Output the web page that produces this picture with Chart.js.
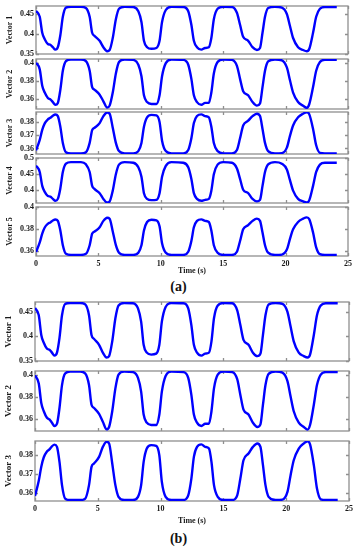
<!DOCTYPE html>
<html>
<head>
<meta charset="utf-8">
<script src="https://cdn.jsdelivr.net/npm/chart.js@4.4.0/dist/chart.umd.min.js"></script>
<style>
  html, body { margin: 0; padding: 0; background: #fff; }
  body { width: 357px; height: 550px; position: relative; overflow: hidden; }
  canvas { position: absolute; left: 0; }
  .tag { position: absolute; left: 0; width: 357px; text-align: center;
         font: bold 14px "Liberation Serif", serif; color: #111; line-height: 14px; }
</style>
</head>
<body>
<div class="tag" style="top:280px">(a)</div>
<div class="tag" style="top:532px">(b)</div>
<script>
// time samples (s), shared by all five signals
const times = [0, 0.3, 0.5, 0.7, 0.95, 1.15, 1.35, 1.55, 1.75, 1.95,
  2.15, 2.4, 2.8, 3.6, 4.0, 4.3, 4.5, 4.7, 5.1, 5.4,
  5.7, 5.9, 6.15, 6.4, 6.65, 7.1, 7.8, 8.2, 8.45, 8.65,
  8.9, 9.25, 9.65, 9.9, 10.1, 10.4, 10.85, 11.8, 12.2, 12.45,
  12.65, 12.9, 13.25, 13.55, 13.85, 14.05, 14.25, 14.55, 15.0, 15.7,
  16.1, 16.35, 16.6, 17.0, 17.35, 17.7, 17.95, 18.15, 18.35, 18.6,
  19.15, 19.7, 20.1, 20.35, 20.6, 21.0, 21.4, 21.7, 21.9, 22.2,
  22.45, 22.75, 23.15, 24.1];

const vector1 = [0.458, 0.443, 0.403, 0.387, 0.375, 0.373, 0.367, 0.361, 0.367, 0.397,
  0.443, 0.466, 0.468, 0.468, 0.465, 0.443, 0.403, 0.395, 0.383, 0.367,
  0.357, 0.360, 0.390, 0.437, 0.463, 0.468, 0.4675, 0.457, 0.430, 0.383,
  0.367, 0.363, 0.365, 0.383, 0.430, 0.460, 0.468, 0.4675, 0.457, 0.423,
  0.383, 0.367, 0.361, 0.365, 0.367, 0.390, 0.437, 0.463, 0.468, 0.4675,
  0.453, 0.423, 0.393, 0.383, 0.367, 0.360, 0.365, 0.403, 0.443, 0.465,
  0.468, 0.466, 0.450, 0.420, 0.390, 0.367, 0.360, 0.357, 0.363, 0.403,
  0.443, 0.463, 0.4675, 0.4675];

const vector2 = [0.4000, 0.3926, 0.3746, 0.3671, 0.3611, 0.3596, 0.3566, 0.3536, 0.3557, 0.3701,
  0.3911, 0.4016, 0.4035, 0.4035, 0.4016, 0.3911, 0.3731, 0.3701, 0.3647, 0.3575,
  0.3506, 0.3527, 0.3671, 0.3881, 0.4007, 0.4035, 0.4030, 0.3977, 0.3851, 0.3641,
  0.3566, 0.3545, 0.3545, 0.3641, 0.3851, 0.3995, 0.4035, 0.4030, 0.3977, 0.3821,
  0.3641, 0.3566, 0.3536, 0.3557, 0.3557, 0.3671, 0.3881, 0.4007, 0.4035, 0.4030,
  0.3965, 0.3821, 0.3686, 0.3641, 0.3566, 0.3527, 0.3551, 0.3731, 0.3911, 0.4013,
  0.4035, 0.4025, 0.3947, 0.3806, 0.3671, 0.3566, 0.3527, 0.3503, 0.3545, 0.3731,
  0.3911, 0.4007, 0.4030, 0.4030];

const vector3 = [0.3585, 0.3665, 0.3740, 0.3790, 0.3820, 0.3832, 0.3848, 0.3857, 0.3845, 0.3765,
  0.3642, 0.3571, 0.3563, 0.3563, 0.3571, 0.3642, 0.3739, 0.3757, 0.3792, 0.3845,
  0.3872, 0.3863, 0.3757, 0.3642, 0.3580, 0.3563, 0.3563, 0.3580, 0.3642, 0.3765,
  0.3836, 0.3854, 0.3850, 0.3800, 0.3659, 0.3580, 0.3563, 0.3563, 0.3588, 0.3677,
  0.3792, 0.3845, 0.3858, 0.3845, 0.3836, 0.3765, 0.3642, 0.3580, 0.3563, 0.3563,
  0.3588, 0.3677, 0.3774, 0.3810, 0.3845, 0.3863, 0.3845, 0.3748, 0.3642, 0.3580,
  0.3563, 0.3565, 0.3606, 0.3695, 0.3774, 0.3836, 0.3863, 0.3874, 0.3858, 0.3748,
  0.3624, 0.3567, 0.3563, 0.3563];

const vector4 = [0.476, 0.456, 0.412, 0.393, 0.380, 0.378, 0.371, 0.365, 0.371, 0.404,
  0.456, 0.482, 0.487, 0.487, 0.480, 0.456, 0.412, 0.402, 0.389, 0.371,
  0.3595, 0.363, 0.397, 0.449, 0.479, 0.487, 0.485, 0.471, 0.441, 0.389,
  0.371, 0.367, 0.368, 0.389, 0.441, 0.475, 0.487, 0.485, 0.471, 0.434,
  0.389, 0.371, 0.365, 0.368, 0.371, 0.397, 0.449, 0.479, 0.487, 0.485,
  0.467, 0.434, 0.400, 0.389, 0.371, 0.363, 0.368, 0.412, 0.456, 0.480,
  0.487, 0.482, 0.464, 0.430, 0.397, 0.371, 0.363, 0.3595, 0.367, 0.412,
  0.456, 0.479, 0.485, 0.485];

const vector5 = [0.3591, 0.3678, 0.3759, 0.3814, 0.3847, 0.3860, 0.3877, 0.3887, 0.3874, 0.3787,
  0.3653, 0.3575, 0.3565, 0.3565, 0.3575, 0.3653, 0.3758, 0.3778, 0.3816, 0.3874,
  0.3903, 0.3894, 0.3778, 0.3653, 0.3585, 0.3565, 0.3565, 0.3585, 0.3653, 0.3787,
  0.3864, 0.3884, 0.3879, 0.3825, 0.3671, 0.3585, 0.3565, 0.3565, 0.3594, 0.3691,
  0.3816, 0.3874, 0.3888, 0.3874, 0.3864, 0.3787, 0.3653, 0.3585, 0.3565, 0.3565,
  0.3594, 0.3691, 0.3797, 0.3836, 0.3874, 0.3894, 0.3874, 0.3768, 0.3653, 0.3585,
  0.3565, 0.3568, 0.3613, 0.3710, 0.3797, 0.3864, 0.3894, 0.3906, 0.3888, 0.3768,
  0.3633, 0.3571, 0.3565, 0.3565];

const xTicks = [0, 5, 10, 15, 20, 25];
const ticks1 = [0.35, 0.4, 0.45];
const ticks2 = [0.36, 0.38, 0.4];
const ticks3 = [0.36, 0.37, 0.38];
const ticks4 = [0.4, 0.45, 0.5];
const ticks5 = [0.36, 0.38, 0.4];

const serif = '"Liberation Serif", "Times New Roman", serif';
const ink = '#1a1a1a';

// frame box with inward tick marks, like the MATLAB axes box
const boxPlugin = {
  id: 'box',
  beforeDatasetsDraw(chart) {
    const { ctx, chartArea: a, scales: { x, y } } = chart;
    ctx.save();
    ctx.strokeStyle = '#8f8f8f';
    ctx.lineWidth = 1.3;
    ctx.strokeRect(a.left, a.top, a.right - a.left, a.bottom - a.top);
    ctx.beginPath();
    x.ticks.forEach(t => {
      const px = Math.round(x.getPixelForValue(t.value)) + 0.5;
      ctx.moveTo(px, a.top); ctx.lineTo(px, a.top + 3);
      ctx.moveTo(px, a.bottom); ctx.lineTo(px, a.bottom - 3);
    });
    y.ticks.forEach(t => {
      const py = Math.round(y.getPixelForValue(t.value)) + 0.5;
      ctx.moveTo(a.left, py); ctx.lineTo(a.left + 3, py);
      ctx.moveTo(a.right, py); ctx.lineTo(a.right - 3, py);
    });
    ctx.stroke();
    ctx.restore();
  }
};

// left/right are the plot frame edges; xh is the height of the time axis when shown
const panels = [
  { series: vector1, ticks: ticks1, label: 'Vector 1', yMin: 0.35, yMax: 0.47, top: 6, bottom: 54, left: 36, right: 348, fs: 8, ls: 8 },
  { series: vector2, ticks: ticks2, label: 'Vector 2', yMin: 0.349, yMax: 0.404, top: 59, bottom: 109, left: 36, right: 348, fs: 8, ls: 8 },
  { series: vector3, ticks: ticks3, label: 'Vector 3', yMin: 0.3558, yMax: 0.3876, top: 112, bottom: 154, left: 36, right: 348, fs: 8, ls: 8 },
  { series: vector4, ticks: ticks4, label: 'Vector 4', yMin: 0.358, yMax: 0.5, top: 158, bottom: 203, left: 36, right: 348, fs: 8, ls: 8 },
  { series: vector5, ticks: ticks5, label: 'Vector 5', yMin: 0.3555, yMax: 0.4, top: 207, bottom: 256, left: 36, right: 348, fs: 8, ls: 8, xh: 19 },
  { series: vector1, ticks: ticks1, label: 'Vector 1', yMin: 0.35, yMax: 0.47, top: 302, bottom: 361, left: 35, right: 349, fs: 8, ls: 9 },
  { series: vector2, ticks: ticks2, label: 'Vector 2', yMin: 0.349, yMax: 0.404, top: 371, bottom: 431, left: 35, right: 349, fs: 8, ls: 9 },
  { series: vector3, ticks: ticks3, label: 'Vector 3', yMin: 0.3558, yMax: 0.3876, top: 441, bottom: 501, left: 35, right: 349, fs: 8, ls: 9, xh: 24 }
];

function drawPanel(p) {
  const showX = !!p.xh;
  const canvas = document.createElement('canvas');
  canvas.width = 357;
  canvas.height = (p.bottom - p.top) + 6 + (showX ? p.xh : 6);
  canvas.style.top = (p.top - 6) + 'px';
  document.body.appendChild(canvas);

  const tickFont = { family: serif, weight: 'bold', size: p.fs, lineHeight: 1 };

  new Chart(canvas, {
    type: 'line',
    data: {
      datasets: [{
        data: times.map((t, i) => ({ x: t, y: p.series[i] })),
        borderColor: '#0000ff',
        borderWidth: 2.4,
        pointRadius: 0,
        cubicInterpolationMode: 'monotone',
        fill: false
      }]
    },
    options: {
      responsive: false,
      animation: false,
      devicePixelRatio: 1,
      layout: { padding: { top: 6, right: 357 - p.right, bottom: showX ? 0 : 6, left: 0 } },
      plugins: { legend: { display: false }, tooltip: { enabled: false } },
      scales: {
        x: {
          type: 'linear', min: 0, max: 25,
          afterBuildTicks: s => { s.ticks = xTicks.map(v => ({ value: v })); },
          afterFit: s => { s.height = showX ? p.xh : 0; },
          grid: { display: false, drawTicks: false },
          border: { display: false },
          ticks: { display: showX, padding: 4, color: ink, font: tickFont, maxRotation: 0, autoSkip: false },
          title: { display: showX, text: 'Time (s)', padding: 0, color: ink, font: tickFont }
        },
        y: {
          min: p.yMin, max: p.yMax,
          afterBuildTicks: s => { s.ticks = p.ticks.map(v => ({ value: v })); },
          afterFit: s => { s.width = p.left; },
          grid: { display: false, drawTicks: false },
          border: { display: false },
          ticks: { padding: 2, color: ink, font: tickFont, callback: v => String(+v.toFixed(3)) },
          title: {
            display: true, text: p.label, color: ink,
            padding: { top: p.ls === 8 ? 6 : 4, bottom: 0 },
            font: { family: serif, weight: 'bold', size: p.ls, lineHeight: 1 }
          }
        }
      }
    },
    plugins: [boxPlugin]
  });
}

panels.forEach(drawPanel);
</script>
</body>
</html>
